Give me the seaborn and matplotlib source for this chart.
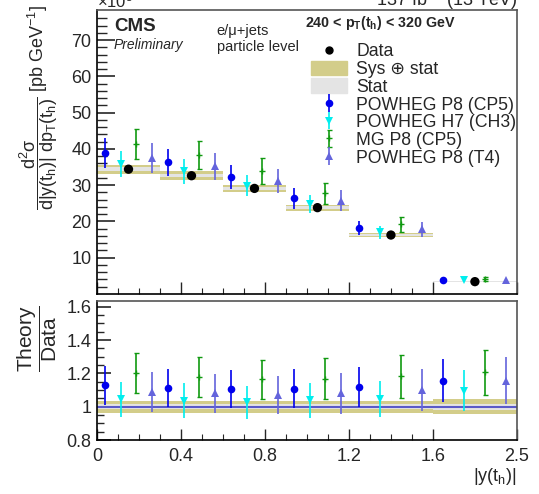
import seaborn as sns
import matplotlib.pyplot as plt
import numpy as np
import pandas as pd
from matplotlib.patches import Patch
from matplotlib.lines import Line2D

# bin edges in |y(t_h)|
edges = [0.0, 0.3, 0.6, 0.9, 1.2, 1.6, 2.5]

# measured cross section (x10^3 pb/GeV)
data_vals = [34.4, 32.6, 29.1, 23.8, 16.25, 3.4]
data_tot = [1.25, 1.2, 1.05, 0.85, 0.6, 0.15]
data_stat = [0.5, 0.45, 0.4, 0.33, 0.25, 0.06]

# theory predictions (x10^3 pb/GeV) and uncertainties
pw_cp5 = [38.8, 36.3, 32.2, 26.4, 18.2, 3.93]
pw_cp5_err = [4.1, 3.75, 3.35, 2.85, 1.95, 0.44]
pw_h7 = [35.9, 33.8, 29.9, 24.7, 17.0, 3.73]
pw_h7_err = [3.55, 3.35, 2.9, 2.5, 1.75, 0.41]
mg_cp5 = [41.4, 38.4, 33.9, 27.8, 19.2, 4.1]
mg_cp5_err = [4.15, 3.9, 3.45, 2.9, 2.1, 0.46]
pw_t4 = [37.4, 35.2, 31.2, 25.7, 17.85, 3.93]
pw_t4_err = [4.1, 3.75, 3.35, 2.95, 2.05, 0.48]

xtick_vals = [0, 0.4, 0.8, 1.2, 1.6, 2.5]
xtick_labels = ["0", "0.4", "0.8", "1.2", "1.6", "2.5"]


def fwd(x):
    x = np.asarray(x, dtype=float)
    return np.where(x <= 1.6, x, 1.6 + (x - 1.6) * 0.4 / 0.9)


def inv(x):
    x = np.asarray(x, dtype=float)
    return np.where(x <= 1.6, x, 1.6 + (x - 1.6) * 0.9 / 0.4)


sns.set_style("ticks")
plt.rcParams['font.family'] = ['Liberation Sans', 'DejaVu Sans']
plt.rcParams['mathtext.fontset'] = 'custom'
plt.rcParams['mathtext.rm'] = 'Liberation Sans'
plt.rcParams['mathtext.it'] = 'Liberation Sans:italic'
plt.rcParams['mathtext.bf'] = 'Liberation Sans:bold'

KHAKI = "#d3cd8a"
STATC = "#e4e4e4"

edges = np.array(edges)
lo, hi = edges[:-1], edges[1:]
dv = np.array(data_vals)
tot = np.array(data_tot)
stat = np.array(data_stat)

models = [
    ("POWHEG P8 (CP5)", pw_cp5, pw_cp5_err, "#0000ee", "o", 5.5, 0.125),
    ("POWHEG H7 (CH3)", pw_h7, pw_h7_err, "#00eeee", "v", 5.5, 0.375),
    ("MG P8 (CP5)", mg_cp5, mg_cp5_err, "#109910", "+", 4, 0.625),
    ("POWHEG P8 (T4)", pw_t4, pw_t4_err, "#6464dc", "^", 5.5, 0.875),
]

fig = plt.figure(figsize=(5.39, 4.94), dpi=100)
ax = fig.add_axes([0.18, 0.4049, 0.779, 0.575])
axr = fig.add_axes([0.18, 0.1093, 0.779, 0.2814])

for a in (ax, axr):
    a.set_xscale('function', functions=(fwd, inv))
    a.set_xlim(0, 2.5)

# data bands
for i in range(len(dv)):
    ax.fill_between([lo[i], hi[i]], dv[i] - tot[i], dv[i] + tot[i], color=KHAKI, lw=0, zorder=1)
    ax.fill_between([lo[i], hi[i]], dv[i] - stat[i], dv[i] + stat[i], color=STATC, lw=0, zorder=1.1)
    axr.fill_between([lo[i], hi[i]], 1 - tot[i] / dv[i], 1 + tot[i] / dv[i], color=KHAKI, lw=0, zorder=1)
    axr.fill_between([lo[i], hi[i]], 1 - stat[i] / dv[i], 1 + stat[i] / dv[i], color=STATC, lw=0, zorder=1.1)
axr.axhline(1.0, color="#5a5ac8", lw=1.5, zorder=1.2)

centers = lo + 0.5 * (hi - lo)
df = pd.DataFrame({"x": centers, "y": dv})
sns.scatterplot(data=df, x="x", y="y", ax=ax, color="black", s=45, edgecolor="none", zorder=5)

handles = []
for name, vals, errs, col, mk, ms, frac in models:
    xs = lo + frac * (hi - lo)
    vals = np.array(vals)
    errs = np.array(errs)
    kw = dict(fmt=mk, color=col, ms=ms, mew=1.0 if mk == "+" else 0,
              elinewidth=1.2, capsize=1.8, capthick=1.0, zorder=4)
    h = ax.errorbar(xs, vals, yerr=errs, **kw)
    axr.errorbar(xs, vals / dv, yerr=errs / dv, **kw)
    handles.append((h, name))

ax.set_ylim(0, 78.3)
axr.set_ylim(0.8, 1.635)
ax.set_yticks([10, 20, 30, 40, 50, 60, 70])
ax.set_yticks(np.arange(2, 78, 2), minor=True)
axr.set_yticks([0.8, 1.0, 1.2, 1.4, 1.6])
axr.set_yticklabels(["0.8", "1", "1.2", "1.4", "1.6"])
axr.set_yticks(np.arange(0.85, 1.63, 0.05), minor=True)

minor_x = [v for v in np.round(np.arange(0.1, 1.6, 0.1), 2) if abs(v / 0.4 - round(v / 0.4)) > 1e-6]
for a in (ax, axr):
    a.set_xticks(xtick_vals)
    a.set_xticks(minor_x, minor=True)
    a.set_xlabel("")
    a.set_ylabel("")
    for s in ("top", "right"):
        a.spines[s].set_color("#555555")
    for s in ("left", "bottom"):
        a.spines[s].set_color("black")
    for s in a.spines.values():
        s.set_linewidth(1.2)
ax.set_xticklabels([])
axr.set_xticklabels(xtick_labels)

ax.tick_params(axis='y', which='major', direction='in', length=13, width=1.2, labelsize=13, pad=4)
ax.tick_params(axis='y', which='minor', direction='in', length=7, width=1.0)
ax.tick_params(axis='x', which='major', direction='in', length=9, width=1.0)
ax.tick_params(axis='x', which='minor', direction='in', length=4.5, width=0.8)
axr.tick_params(axis='y', which='major', direction='in', length=10, width=1.2, labelsize=13, pad=4)
axr.tick_params(axis='y', which='minor', direction='in', length=5, width=1.0)
axr.tick_params(axis='x', which='major', direction='in', length=8, width=1.0, labelsize=13, pad=6)
axr.tick_params(axis='x', which='minor', direction='in', length=4, width=0.8)

# labels
fig.text(0.072, 0.99, r"$\dfrac{\mathrm{d^{2}\sigma}}{\mathrm{d|y(t_{h})|\ dp_{T}(t_{h})}}$ [pb GeV$^{-1}$]",
         rotation=90, ha='center', va='top', fontsize=13)
fig.text(0.07, 0.315, r"$\dfrac{\mathrm{Theory}}{\mathrm{Data}}$", rotation=90, ha='center', va='center', fontsize=15)
fig.text(0.959, 0.035, r"|y(t$_{\mathrm{h}}$)|", ha='right', va='center', fontsize=13)
fig.text(0.18, 1.0, r"$\times$10$^{3}$", ha='left', va='center', fontsize=12)
fig.text(0.959, 1.0, r"137 fb$^{-1}$ (13 TeV)", ha='right', va='center', fontsize=13)

ax.text(0.04, 0.94, "CMS", transform=ax.transAxes, fontsize=13.5, fontweight='bold', ha='left', va='center')
ax.text(0.04, 0.877, "Preliminary", transform=ax.transAxes, fontsize=10, style='italic', ha='left', va='center')
ax.text(0.285, 0.925, "e/\u03bc+jets", transform=ax.transAxes, fontsize=10.5, ha='left', va='center')
ax.text(0.285, 0.87, "particle level", transform=ax.transAxes, fontsize=10.5, ha='left', va='center')
ax.text(0.495, 0.955, r"240 < p$_{\mathbf{T}}$(t$_{\mathbf{h}}$) < 320 GeV", transform=ax.transAxes,
        fontsize=10.3, fontweight='bold', ha='left', va='center')

# legend
leg_handles = [Line2D([], [], ls='', marker='o', color='black', ms=5),
               Patch(color=KHAKI), Patch(color=STATC)] + [h for h, _ in handles]
leg_labels = ["Data", "Sys \u2295 stat", "Stat"] + [n for _, n in handles]
ax.legend(leg_handles, leg_labels, loc='upper right', bbox_to_anchor=(1.02, 0.915), frameon=False,
          fontsize=12.7, handlelength=2.0, handleheight=0.9, labelspacing=0.02, handletextpad=0.55,
          borderaxespad=0.1)

fig.savefig("out.png", dpi=100)
